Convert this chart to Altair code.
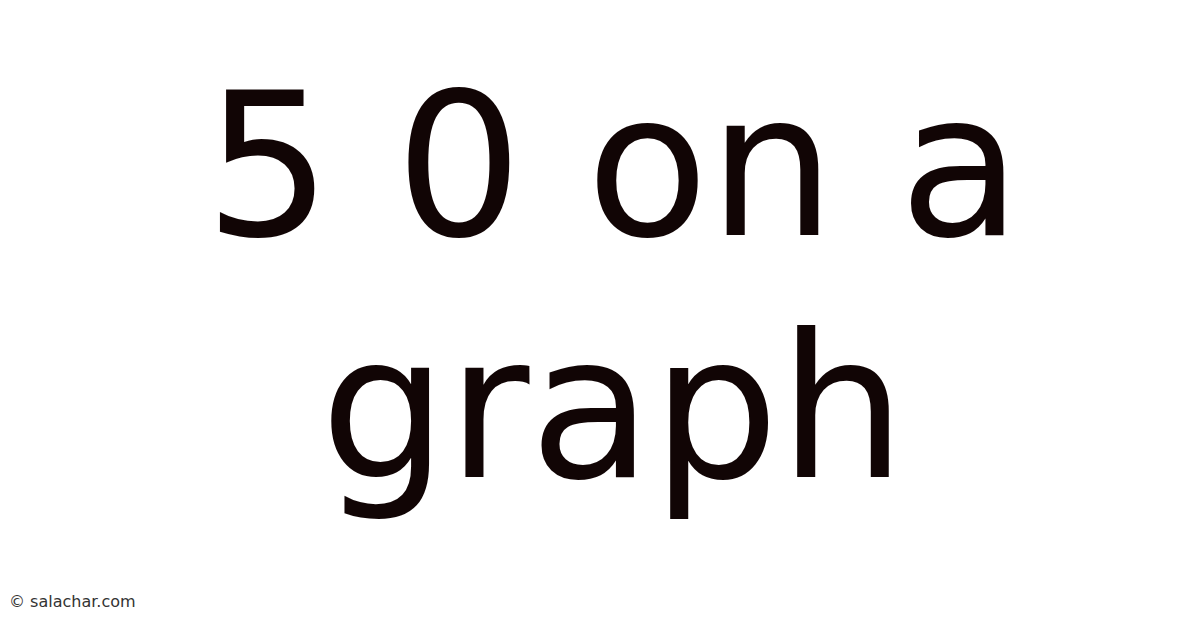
import altair as alt
import pandas as pd

# Text content
lines = ["5 0 on a", "graph"]
line_row = [0, 1]
credit = ["© salachar.com"]

title_df = pd.DataFrame({"text": lines, "row": line_row})
credit_df = pd.DataFrame({"text": credit})

W, H = 1184, 612

title = alt.Chart(title_df).mark_text(
    font="DejaVu Sans",
    fontSize=200,
    color="#110505",
    align="center",
    baseline="alphabetic",
).encode(
    x=alt.value(605),
    y=alt.Y("row:Q", axis=None, scale=alt.Scale(domain=[0, 1], range=[227, 469])),
    text="text:N",
)

credit_mark = alt.Chart(credit_df).mark_text(
    font="DejaVu Sans",
    fontSize=16,
    color="#333333",
    align="left",
    baseline="alphabetic",
).encode(
    x=alt.value(1),
    y=alt.value(599),
    text="text:N",
)

chart = alt.layer(title, credit_mark).properties(
    width=W,
    height=H,
    padding=0,
    autosize=alt.AutoSizeParams(type="none"),
    background="white",
).configure_view(stroke=None)

chart.save("out.html", embed_options={"renderer": "svg", "actions": False})
